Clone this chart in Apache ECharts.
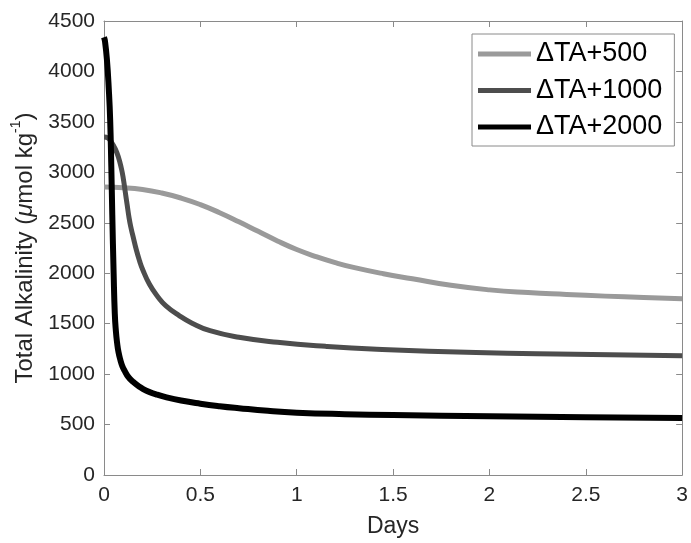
<!DOCTYPE html>
<html>
<head>
<meta charset="utf-8">
<script src="https://cdn.jsdelivr.net/npm/echarts@6/dist/echarts.min.js"></script>
<style>
html,body{margin:0;padding:0;background:#fff;}
#chart{width:691px;height:543px;}
</style>
</head>
<body>
<div id="chart"></div>
<script>
// ---- data ----
var seriesNames = ['\u0394TA+500', '\u0394TA+1000', '\u0394TA+2000'];

var ta500Days   = [0, 0.1, 0.2, 0.3, 0.4, 0.5, 0.6, 0.7, 0.8, 0.9, 1.0, 1.1, 1.2, 1.3, 1.45, 1.6, 1.8, 2.0, 2.2, 2.4, 2.6, 2.8, 3.0];
var ta500Values = [2855, 2848, 2830, 2795, 2745, 2680, 2600, 2510, 2415, 2320, 2235, 2165, 2105, 2055, 1995, 1945, 1880, 1835, 1808, 1790, 1773, 1760, 1748];

var ta1000Days   = [0, 0.02, 0.04, 0.06, 0.075, 0.09, 0.1, 0.11, 0.12, 0.13, 0.14, 0.15, 0.168, 0.185, 0.2, 0.236, 0.28, 0.32, 0.39, 0.457, 0.55, 0.7, 0.9, 1.15, 1.415, 1.93, 2.44, 3.0];
var ta1000Values = [3350, 3340, 3295, 3225, 3150, 3040, 2940, 2810, 2680, 2550, 2450, 2370, 2230, 2120, 2040, 1890, 1765, 1680, 1580, 1505, 1430, 1365, 1315, 1275, 1247, 1214, 1197, 1181];

var ta2000Days   = [0, 0.005, 0.015, 0.025, 0.032, 0.038, 0.043, 0.05, 0.056, 0.062, 0.068, 0.075, 0.085, 0.095, 0.108, 0.125, 0.15, 0.18, 0.22, 0.27, 0.32, 0.4, 0.5, 0.6, 0.7, 0.85, 1.0, 1.25, 1.5, 2.0, 2.5, 3.0];
var ta2000Values = [4340, 4300, 4120, 3820, 3520, 3050, 2580, 2000, 1600, 1420, 1310, 1220, 1140, 1080, 1030, 975, 925, 880, 835, 800, 772, 738, 707, 682, 662, 636, 618, 603, 594, 582, 573, 565];

var seriesColors = ['#9a9a9a', '#4d4d4d', '#000000'];
var seriesWidths = [5, 5, 6];

function pairs(xs, ys) { return xs.map(function (x, i) { return [x, ys[i]]; }); }
var seriesData = [pairs(ta500Days, ta500Values), pairs(ta1000Days, ta1000Values), pairs(ta2000Days, ta2000Values)];

var FONT = '"Liberation Sans", Arial, Helvetica, sans-serif';
var TXT = '#262626';
var AX = '#8a8a8a';

var chart = echarts.init(document.getElementById('chart'), null, {renderer: 'canvas'});

function plain(v) { return String(v); }

var hiddenAxisCommon = {
  axisLine: {show: true, onZero: false, lineStyle: {color: AX, width: 1}},
  axisTick: {show: true, inside: true, length: 6, lineStyle: {color: AX, width: 1}},
  axisLabel: {show: false},
  splitLine: {show: false}
};

var option = {
  animation: false,
  backgroundColor: '#ffffff',
  grid: {left: 104, right: 1, top: 21, bottom: 65, containLabel: false},
  legend: {
    orient: 'vertical',
    left: 472, top: 34,
    padding: [6, 12, 5, 6],
    itemGap: 8.5,
    itemWidth: 53, itemHeight: 5,
    icon: 'rect',
    backgroundColor: '#ffffff',
    borderColor: AX, borderWidth: 1,
    textStyle: {fontFamily: FONT, fontSize: 27, color: '#000', lineHeight: 28},
    data: seriesNames
  },
  xAxis: [{
    type: 'value', min: 0, max: 3, interval: 0.5, position: 'bottom',
    name: 'Days', nameLocation: 'middle', nameGap: 40,
    nameTextStyle: {fontFamily: FONT, fontSize: 23, color: TXT},
    axisLine: {show: true, onZero: false, lineStyle: {color: AX, width: 1}},
    axisTick: {show: true, inside: true, length: 6, lineStyle: {color: AX}},
    axisLabel: {fontFamily: FONT, fontSize: 21, color: TXT, margin: 10, formatter: plain},
    splitLine: {show: false}
  }, Object.assign({
    type: 'value', min: 0, max: 3, interval: 0.5, position: 'top'
  }, hiddenAxisCommon)],
  yAxis: [{
    type: 'value', min: 0, max: 4500, interval: 500, position: 'left',
    name: '{a|Total Alkalinity (}{i|\u03bc}{a|mol kg}{s|-1}{a|)}',
    nameLocation: 'middle', nameGap: 38, nameRotate: 90,
    nameTextStyle: {
      fontFamily: FONT, fontSize: 24, color: TXT,
      rich: {
        a: {fontFamily: FONT, fontSize: 24, color: TXT, lineHeight: 28, verticalAlign: 'bottom'},
        i: {fontFamily: FONT, fontSize: 24, color: TXT, fontStyle: 'italic', lineHeight: 28, verticalAlign: 'bottom'},
        s: {fontFamily: FONT, fontSize: 14, color: TXT, lineHeight: 28, verticalAlign: 'top'}
      }
    },
    axisLine: {show: true, onZero: false, lineStyle: {color: AX, width: 1}},
    axisTick: {show: true, inside: true, length: 6, lineStyle: {color: AX}},
    axisLabel: {fontFamily: FONT, fontSize: 21, color: TXT, margin: 9, formatter: plain},
    splitLine: {show: false}
  }, Object.assign({
    type: 'value', min: 0, max: 4500, interval: 500, position: 'right'
  }, hiddenAxisCommon)],
  series: seriesNames.map(function (name, k) {
    return {
      name: name,
      type: 'line',
      xAxisIndex: 0, yAxisIndex: 0,
      data: seriesData[k],
      showSymbol: false, symbol: 'none',
      smooth: 0.5,
      lineStyle: {color: seriesColors[k], width: seriesWidths[k], cap: 'butt', join: 'round'},
      itemStyle: {color: seriesColors[k]},
      clip: true,
      z: 2 + k
    };
  })
};
chart.setOption(option);
</script>
</body>
</html>
